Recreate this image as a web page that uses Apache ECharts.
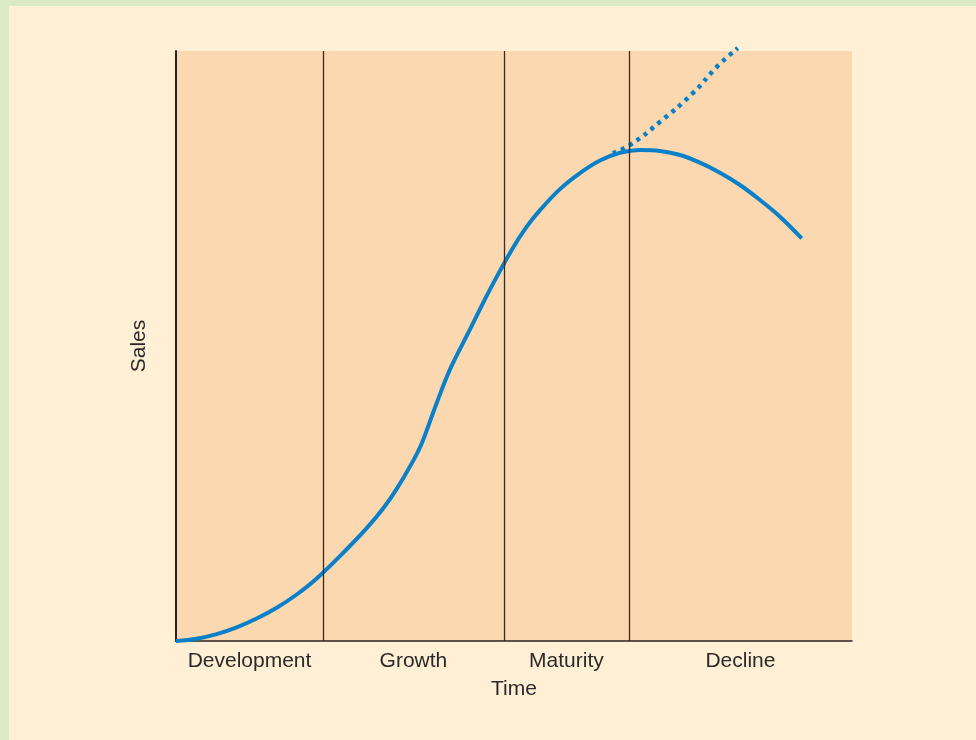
<!DOCTYPE html>
<html>
<head>
<meta charset="utf-8">
<script src="https://cdn.jsdelivr.net/npm/echarts@6/dist/echarts.min.js"></script>
<style>
  html, body { margin: 0; padding: 0; background: #dbe9c4; }
  #bg { position: absolute; left: 9px; top: 6px; width: 967px; height: 734px; background: #ffefd4; }
  #chart { position: absolute; left: 0; top: 0; width: 976px; height: 740px; }
</style>
</head>
<body>
<div id="bg"></div>
<div id="chart"></div>
<script>
// Stage names and their boundaries on the time axis (0..100)
const stageNames = ['Development', 'Growth', 'Maturity', 'Decline'];
const stageBounds = [0, 21.75, 48.5, 67.0, 100];

// Actual sales curve: [time, sales]
const salesTime = [0, 3.06, 6.02, 8.98, 11.94, 14.90, 17.86, 20.81, 25.0, 28.21, 30.67, 32.65, 34.87, 36.35, 38.17, 40.53, 43.49, 46.45, 49.66, 51.88, 53.85, 56.80, 59.76, 62.72, 65.68, 68.64, 71.60, 74.56, 77.51, 80.47, 83.43, 86.39, 89.35, 92.56];
const salesValue = [0, 0.39, 1.17, 2.32, 3.81, 5.64, 7.88, 10.59, 15.25, 19.12, 22.49, 25.78, 30.10, 33.49, 39.12, 46.03, 52.81, 59.59, 66.29, 70.22, 73.03, 76.59, 79.31, 81.44, 82.76, 83.22, 83.05, 82.37, 81.07, 79.37, 77.29, 74.75, 71.92, 68.25];

// Continued-growth (dotted) curve
const growthTime = [64.6, 67.2, 71.6, 76.5, 80.0, 83.1];
const growthValue = [82.7, 84.1, 88.0, 92.9, 97.3, 100.5];

const centers = stageNames.map((n, i) => (stageBounds[i] + stageBounds[i + 1]) / 2);
const innerBounds = stageBounds.slice(1, -1);

const chart = echarts.init(document.getElementById('chart'), null, { renderer: 'canvas' });
const textStyle = { fontFamily: 'Liberation Sans, Arial, sans-serif', fontSize: 21, color: '#2a2a2a' };

chart.setOption({
  backgroundColor: 'transparent',
  animation: false,
  grid: { left: 176, right: 124, top: 51, bottom: 99, show: true, backgroundColor: '#fcd8b1', borderWidth: 0 },
  xAxis: {
    type: 'value', min: 0, max: 100,
    name: 'Time', nameLocation: 'middle', nameGap: 38,
    nameTextStyle: textStyle,
    axisLine: { show: true, lineStyle: { color: '#2a2220', width: 1.5 } },
    axisTick: { show: false },
    splitLine: { show: false },
    axisLabel: {
      show: true, margin: 10,
      customValues: centers,
      formatter: function (v) {
        let best = 0, d = Infinity;
        centers.forEach((c, i) => { if (Math.abs(c - v) < d) { d = Math.abs(c - v); best = i; } });
        return stageNames[best];
      },
      ...textStyle
    }
  },
  yAxis: {
    type: 'value', min: 0, max: 100,
    name: 'Sales', nameLocation: 'middle', nameGap: 26, nameRotate: 90,
    nameTextStyle: textStyle,
    axisLine: { show: true, lineStyle: { color: '#2a2220', width: 2 } },
    axisTick: { show: false },
    axisLabel: { show: false },
    splitLine: { show: false }
  },
  series: [
    {
      type: 'line',
      data: [],
      markLine: {
        silent: true, symbol: 'none', animation: false,
        label: { show: false },
        lineStyle: { color: '#3a2c24', width: 1.3, type: 'solid' },
        data: innerBounds.map(b => ({ xAxis: b }))
      }
    },
    {
      type: 'line',
      data: growthTime.map((t, i) => [t, growthValue[i]]),
      smooth: 0.5, showSymbol: false, clip: false,
      lineStyle: { color: '#0a80c8', width: 4.5, type: [4, 5], cap: 'butt' },
      z: 3
    },
    {
      type: 'line',
      data: salesTime.map((t, i) => [t, salesValue[i]]),
      smooth: 0.35, showSymbol: false, clip: false,
      lineStyle: { color: '#0a80c8', width: 4 },
      z: 4
    }
  ]
});
</script>
</body>
</html>
